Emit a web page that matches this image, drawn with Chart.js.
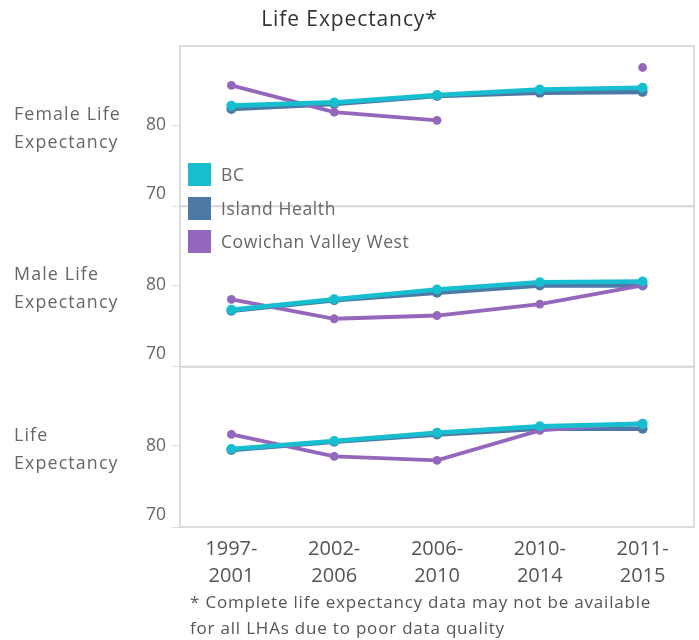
<!DOCTYPE html>
<html><head><meta charset="utf-8">
<script src="https://cdn.jsdelivr.net/npm/chart.js@4"></script>
<style>
html,body{margin:0;padding:0;background:#fff;}
#wrap{position:relative;width:699px;height:640px;font-family:"Open Sans",sans-serif;color:#666;overflow:hidden;}
#c{position:absolute;left:0;top:0;}
.t{position:absolute;white-space:nowrap;}
.row{left:14px;font-size:17.8px;line-height:28px;color:#666;letter-spacing:1.15px;}
.leg{left:188px;height:23px;}
.leg span.sw{position:absolute;left:0;top:0;width:23px;height:23px;}
.leg span.lb{position:absolute;left:33px;top:-2px;font-size:17.5px;line-height:27px;color:#666;letter-spacing:0.6px;}
</style></head><body>
<div id="wrap">
<canvas id="c" width="699" height="640"></canvas>
<div class="t" style="left:0;width:699px;text-align:center;top:4px;font-size:21px;line-height:28px;color:#333;font-weight:500;letter-spacing:0.9px;">Life Expectancy*</div>
<div class="t row" style="top:99px;">Female Life<br>Expectancy</div>
<div class="t row" style="top:259px;">Male Life<br>Expectancy</div>
<div class="t row" style="top:420px;">Life<br>Expectancy</div>
<div id="legend"></div>
<div class="t" style="left:190px;top:589px;font-size:17px;line-height:26px;color:#555;letter-spacing:0.8px;">* Complete life expectancy data may not be available<br>for all LHAs due to poor data quality</div>
</div>
<script>
const categories = [['1997-','2001'],['2002-','2006'],['2006-','2010'],['2010-','2014'],['2011-','2015']];
const seriesNames = ['BC','Island Health','Cowichan Valley West'];
const femaleBC  = [82.4, 82.8, 83.7, 84.4, 84.6];
const femaleIH  = [82.0, 82.6, 83.6, 84.0, 84.1];
const femaleCVW = [84.9, 81.6, 80.6, null, 87.1];
const maleBC    = [77.0, 78.3, 79.5, 80.4, 80.5];
const maleIH    = [76.9, 78.2, 79.1, 80.0, 80.0];
const maleCVW   = [78.3, 75.9, 76.3, 77.7, 80.0];
const totalBC   = [79.6, 80.6, 81.6, 82.4, 82.7];
const totalIH   = [79.5, 80.5, 81.4, 82.1, 82.1];
const totalCVW  = [81.4, 78.7, 78.2, 81.9, 82.8];
const yTicks = [70, 80];
const yMin = 70, yMax = 89.75;

const colors = {BC:'#17becf', IH:'#4e79a7', CVW:'#9467bd'};
const FONT = '"Open Sans", sans-serif';

// legend
const legendEl = document.getElementById('legend');
[[seriesNames[0], colors.BC, 163],[seriesNames[1], colors.IH, 197],[seriesNames[2], colors.CVW, 230]].forEach(([n,c,top])=>{
  const d = document.createElement('div');
  d.className = 't leg';
  d.style.top = top + 'px';
  d.innerHTML = '<span class="sw" style="background:'+c+'"></span><span class="lb">'+n+'</span>';
  legendEl.appendChild(d);
});

function ds(label, data, color, axis, order, width, radius){
  return {label, data, yAxisID: axis, borderColor: color, backgroundColor: color,
    pointBackgroundColor: color, pointBorderWidth: 0, pointRadius: radius, borderWidth: width,
    order, spanGaps: false, tension: 0};
}
function yAxis(w){
  return {type:'linear', position:'left', stack:'panels', stackWeight:1, weight:w,
    min:yMin, max:yMax,
    afterBuildTicks(s){ s.ticks = yTicks.map(v=>({value:v})); },
    grid:{drawOnChartArea:false, tickLength:9, color:'#e0e0e0', lineWidth:1},
    border:{display:false},
    ticks:{color:'#666', font:{family:FONT, size:17.5, lineHeight:1.4}, padding:5,
      callback:(v)=> v===yMin ? [String(v),''] : String(v)},
    afterFit(s){ s.width = 180; }
  };
}

const panelBorders = {
  id:'panelBorders',
  beforeDatasetsDraw(chart){
    const {ctx, chartArea:a} = chart;
    ctx.save();
    ctx.strokeStyle = '#d4d4d4';
    ctx.lineWidth = 1.6;
    ['yF','yM','yT'].forEach(id=>{
      const s = chart.scales[id];
      ctx.strokeRect(a.left, s.top, a.right - a.left, s.bottom - s.top);
    });
    ctx.restore();
  }
};

new Chart(document.getElementById('c'), {
  type:'line',
  data:{
    labels: categories,
    datasets:[
      ds(seriesNames[0], femaleBC, colors.BC, 'yF', 0, 4.6, 5),
      ds(seriesNames[2], femaleCVW, colors.CVW, 'yF', 1, 3.8, 4.4),
      ds(seriesNames[1], femaleIH, colors.IH, 'yF', 2, 4.6, 5),
      ds(seriesNames[0], maleBC, colors.BC, 'yM', 0, 4.6, 5),
      ds(seriesNames[2], maleCVW, colors.CVW, 'yM', 1, 3.8, 4.4),
      ds(seriesNames[1], maleIH, colors.IH, 'yM', 2, 4.6, 5),
      ds(seriesNames[0], totalBC, colors.BC, 'yT', 0, 4.6, 5),
      ds(seriesNames[2], totalCVW, colors.CVW, 'yT', 1, 3.8, 4.4),
      ds(seriesNames[1], totalIH, colors.IH, 'yT', 2, 4.6, 5)
    ]
  },
  options:{
    responsive:false, animation:false,
    layout:{padding:{top:46, right:4, left:0, bottom:0}},
    plugins:{legend:{display:false}, tooltip:{enabled:false}, title:{display:false}},
    scales:{
      x:{type:'category', offset:true,
        grid:{display:false, drawTicks:false}, border:{display:false},
        ticks:{color:'#555', font:{family:FONT, size:20, lineHeight:1.35}, padding:9, maxRotation:0, autoSkip:false},
        afterFit(s){ s.height = 113; }
      },
      yF: yAxis(3),
      yM: yAxis(2),
      yT: yAxis(1)
    }
  },
  plugins:[panelBorders]
});
</script>
</body></html>
